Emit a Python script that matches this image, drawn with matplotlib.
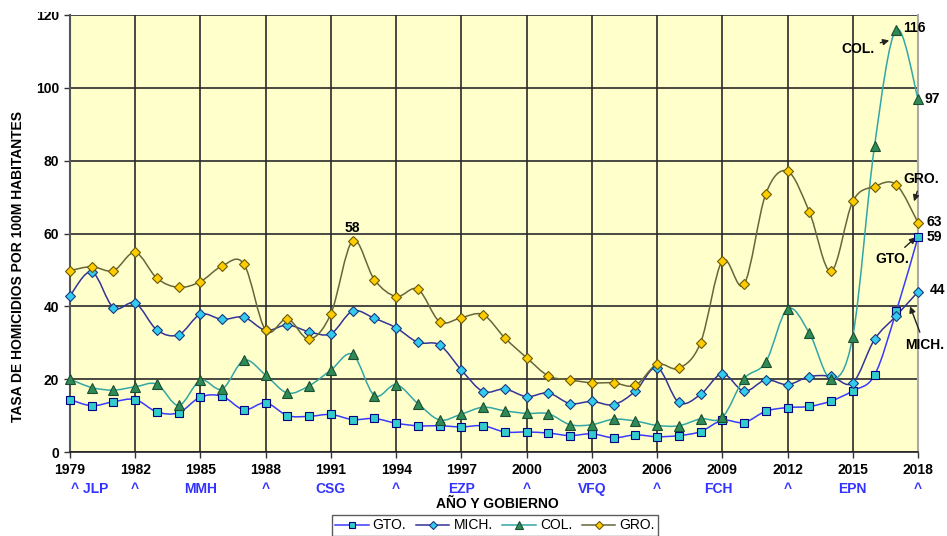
import numpy as np
import matplotlib
matplotlib.use("Agg")
import matplotlib.pyplot as plt
from matplotlib.path import Path
from matplotlib.patches import PathPatch, Rectangle

plt.rcParams['font.family'] = ['Liberation Sans', 'DejaVu Sans']

years = list(range(1979, 2019))

gto = [14.4, 12.7, 13.8, 14.4, 11.0, 10.8, 15.1, 15.3, 11.6, 13.5,
       10.0, 9.8, 10.3, 8.9, 9.2, 7.9, 7.2, 7.2, 6.9, 7.2,
       5.5, 5.5, 5.2, 4.5, 5.0, 3.9, 4.7, 4.2, 4.5, 5.6,
       8.7, 8.1, 11.2, 12.2, 12.5, 14.0, 16.8, 21.1, 38.6, 59.0]
mich = [42.9, 49.5, 39.6, 40.9, 33.5, 32.2, 37.8, 36.4, 37.0, 33.4,
        34.9, 33.0, 32.5, 38.7, 36.7, 34.1, 30.1, 29.4, 22.5, 16.6,
        17.3, 15.2, 16.2, 13.3, 13.9, 13.0, 16.7, 23.2, 13.6, 15.8,
        21.5, 16.7, 19.8, 18.5, 20.7, 20.8, 19.0, 30.9, 37.4, 44.0]
col = [20.0, 17.7, 17.0, 17.9, 18.6, 12.8, 19.7, 17.3, 25.2, 21.1,
       16.2, 18.2, 22.5, 26.8, 15.5, 18.5, 13.3, 8.8, 10.4, 12.3,
       11.3, 10.6, 10.5, 7.5, 7.5, 9.0, 8.5, 7.3, 7.2, 9.1,
       9.5, 20.1, 24.7, 39.3, 32.7, 20.1, 31.7, 84.0, 116.0, 97.0]
gro = [49.8, 50.9, 49.8, 54.8, 47.7, 45.2, 46.8, 51.1, 51.6, 33.4,
       36.6, 31.0, 38.0, 58.0, 47.3, 42.7, 44.7, 35.8, 36.9, 37.7,
       31.3, 25.9, 20.9, 19.8, 19.0, 19.0, 18.3, 24.1, 23.0, 30.0,
       52.5, 46.0, 70.9, 77.1, 66.0, 49.6, 68.8, 72.9, 73.4, 63.0]

tick_years = list(range(1979, 2019, 3))
gov_labels = ["^ JLP", "^", "MMH", "^", "CSG", "^", "EZP", "^", "VFQ", "^",
              "FCH", "^", "EPN", "^"]
gov_positions = [1979.9, 1982, 1985, 1988, 1991, 1994, 1997, 2000, 2003,
                 2006, 2008.8, 2012, 2015, 2018]


def smooth_path(xs, ys):
    pts = np.column_stack([xs, ys]).astype(float)
    n = len(pts)
    verts = [pts[0]]
    codes = [Path.MOVETO]
    for i in range(n - 1):
        p0 = pts[i - 1] if i > 0 else pts[i]
        p1 = pts[i]
        p2 = pts[i + 1]
        p3 = pts[i + 2] if i + 2 < n else pts[i + 1]
        c1 = p1 + (p2 - p0) / 6.0
        c2 = p2 - (p3 - p1) / 6.0
        verts += [c1, c2, p2]
        codes += [Path.CURVE4] * 3
    return Path(verts, codes)


fig = plt.figure(figsize=(9.47, 5.36), dpi=100)
ax = fig.add_axes([70 / 947, 1 - 452 / 536, 848 / 947, 437 / 536])
ax.set_facecolor('#ffffcc')
ax.set_xlim(1979, 2018)
ax.set_ylim(0, 119.5)

series = [
    ("GTO.", gto, '#3a3aff', 's', '#33cccc', '#000080', 5.5),
    ("MICH.", mich, '#333399', 'D', '#33ccee', '#1a3a80', 5.5),
    ("COL.", col, '#33a6a6', '^', '#2e8b57', '#1d4d30', 7.5),
    ("GRO.", gro, '#66663a', 'D', '#ffcc00', '#6b5a00', 5.5),
]
handles = []
for name, vals, lc, mk, mf, me, ms in series:
    patch = PathPatch(smooth_path(years, vals), facecolor='none', edgecolor=lc,
                      lw=1.1, zorder=3)
    ax.add_patch(patch)
    ax.plot(years, vals, linestyle='none', marker=mk, markersize=ms,
            markerfacecolor=mf, markeredgecolor=me, markeredgewidth=0.8,
            zorder=4, clip_on=False)
    h, = ax.plot([], [], color=lc, lw=1.1, marker=mk, markersize=ms * 0.8,
                 markerfacecolor=mf, markeredgecolor=me, markeredgewidth=0.8)
    handles.append((h, name))

ax.set_xticks(tick_years)
ax.set_yticks(range(0, 121, 20))
ax.grid(True, color='#2a2a2a', lw=1.2, zorder=1)
ax.set_axisbelow(True)
ax.tick_params(axis='both', labelsize=10, length=4, width=1, color='#333333', pad=4)
for lab in ax.get_xticklabels() + ax.get_yticklabels():
    lab.set_fontweight('bold')

ax.spines['top'].set_visible(False)
ax.spines['right'].set_color('#aaaaaa')
ax.spines['right'].set_linewidth(1.5)
ax.spines['left'].set_color('#555555')
ax.spines['left'].set_linewidth(1.5)
ax.spines['bottom'].set_color('#222222')
ax.spines['bottom'].set_linewidth(1.2)

# government labels
for lab, pos in zip(gov_labels, gov_positions):
    ax.text(pos, -10.2, lab, ha='center', va='center', color='#3333ff',
            fontsize=10, fontweight='bold', transform=ax.transData, clip_on=False)

fig.text(497 / 947, 1 - 504 / 536, "AÑO Y GOBIERNO", ha='center', va='center',
         fontsize=10, fontweight='bold')
fig.text(18 / 947, 1 - 267 / 536, "TASA DE HOMICIDIOS POR 100M HABITANTES",
         rotation=90, ha='center', va='center', fontsize=10, fontweight='bold')

# value labels
lbl = dict(fontsize=10, fontweight='bold', clip_on=False, va='center')
ax.text(2017.3, 116.3, "116", ha='left', **lbl)
ax.text(2018.3, 97, "97", ha='left', **lbl)
ax.text(2018.4, 63.2, "63", ha='left', **lbl)
ax.text(2018.4, 59, "59", ha='left', **lbl)
ax.text(2018.55, 44.5, "44", ha='left', **lbl)
ax.text(1992, 61.5, "58", ha='center', **lbl)

arrow = dict(arrowstyle='-|>', color='#222222', lw=1.0, mutation_scale=9)
ax.annotate("COL.", xy=(2016.8, 113.2), xytext=(2015.25, 110.8),
            ha='center', va='center', fontsize=10, fontweight='bold',
            arrowprops=arrow, annotation_clip=False)
ax.annotate("GRO.", xy=(2017.78, 68.1), xytext=(2018.15, 75.0),
            ha='center', va='center', fontsize=10, fontweight='bold',
            arrowprops=arrow, annotation_clip=False)
ax.annotate("GTO.", xy=(2018.0, 59.5), xytext=(2016.8, 53.0),
            ha='center', va='center', fontsize=10, fontweight='bold',
            arrowprops=arrow, annotation_clip=False)
ax.annotate("MICH.", xy=(2017.59, 40.7), xytext=(2018.3, 29.5),
            ha='center', va='center', fontsize=10, fontweight='bold',
            arrowprops=arrow, annotation_clip=False)

leg = fig.legend([h for h, _ in handles], [n for _, n in handles],
                 loc='upper center', bbox_to_anchor=(495 / 947, 1 - 515 / 536),
                 ncol=4, frameon=True, fancybox=False, edgecolor='#333333',
                 fontsize=10, handlelength=2.4, columnspacing=0.7,
                 handletextpad=0.3, borderpad=0.25, borderaxespad=0)
leg.get_frame().set_linewidth(1.0)

# the original image is cropped just above the plot area, cutting the top tick label
fig.patches.append(Rectangle((0, 1 - 12 / 536), 1, 12 / 536, transform=fig.transFigure,
                             facecolor='white', edgecolor='none', zorder=10))

fig.savefig("out.png", dpi=100)
